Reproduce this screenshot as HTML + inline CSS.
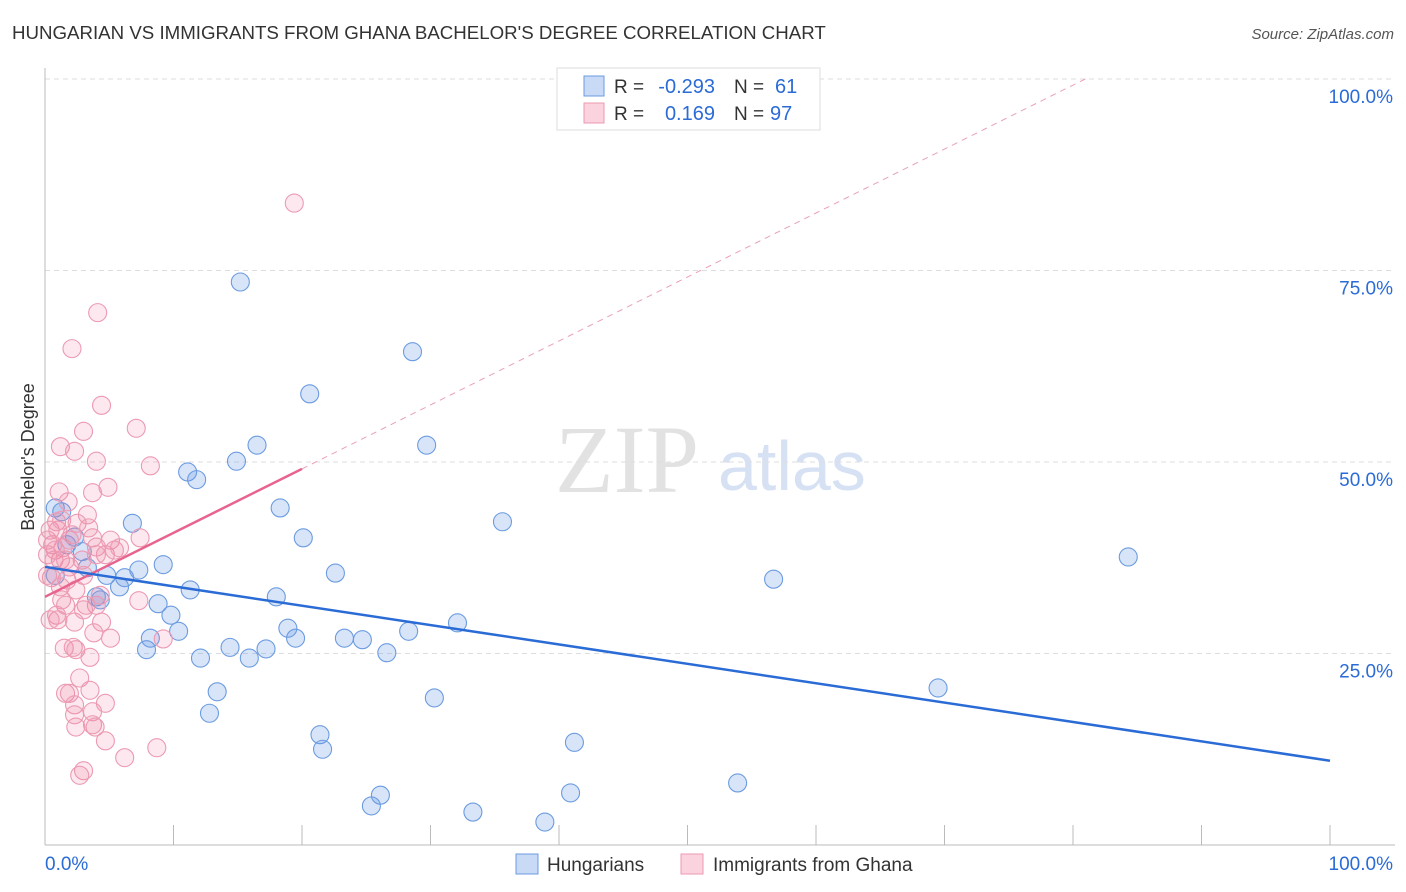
<!DOCTYPE html>
<html><head><meta charset="utf-8"><style>
body{margin:0;background:#fff;font-family:"Liberation Sans",sans-serif;}
#wrap{position:relative;width:1406px;height:892px;overflow:hidden;}
</style></head><body>
<div id="wrap">
<svg id="svg" width="1406" height="892" xmlns="http://www.w3.org/2000/svg">
<text x="12" y="39" font-size="18.7" fill="#333">HUNGARIAN VS IMMIGRANTS FROM GHANA BACHELOR'S DEGREE CORRELATION CHART</text>
<text x="1394" y="39" font-size="15" fill="#555" font-style="italic" text-anchor="end">Source: ZipAtlas.com</text>
<text x="555" y="492" font-size="96" fill="#e2e2e2" font-family="Liberation Serif,serif">ZIP</text>
<text x="718" y="490" font-size="70" fill="#d6e1f4">atlas</text>
<text transform="translate(34,457) rotate(-90)" font-size="18" fill="#333" text-anchor="middle">Bachelor's Degree</text>
<g id="grid"></g><g id="marks"></g>
<g>
<rect x="557" y="68" width="263" height="62" fill="#fff" stroke="#ddd"/>
<rect x="584" y="76" width="20" height="20" fill="rgba(100,150,230,0.35)" stroke="#6b9be0"/>
<rect x="584" y="103" width="20" height="20" fill="rgba(240,130,160,0.35)" stroke="#ec9ab2"/>
<text x="614" y="93" font-size="19" fill="#333">R =</text>
<text x="715" y="93" font-size="20" fill="#2a6bd6" text-anchor="end">-0.293</text>
<text x="734" y="93" font-size="19" fill="#333">N =</text>
<text x="775" y="93" font-size="20" fill="#2a6bd6">61</text>
<text x="614" y="120" font-size="19" fill="#333">R =</text>
<text x="715" y="120" font-size="20" fill="#2a6bd6" text-anchor="end">0.169</text>
<text x="734" y="120" font-size="19" fill="#333">N =</text>
<text x="770" y="120" font-size="20" fill="#2a6bd6">97</text>
</g>
<g>
<rect x="516" y="854" width="22" height="20" fill="rgba(100,150,230,0.35)" stroke="#6b9be0"/>
<text x="547" y="871" font-size="19" fill="#333">Hungarians</text>
<rect x="681" y="854" width="22" height="20" fill="rgba(240,130,160,0.35)" stroke="#ec9ab2"/>
<text x="713" y="871" font-size="19" fill="#333">Immigrants from Ghana</text>
</g>
</svg>
</div>
<script>
const yTicks=[25,50,75,100];
const xTickLabels=["0.0%","100.0%"];
const blueX=[15.2,28.6,20.6,29.7,16.5,14.9,11.1,11.8,18.3,35.6,6.8,84.3,20.1,0.8,1.3,2.3,2.9,1.7,9.2,7.3,4.8,6.2,5.8,3.3,22.6,56.7,4.3,4.0,11.3,18.0,8.8,9.8,32.1,28.3,18.9,19.5,23.3,24.7,10.4,8.2,7.9,14.4,17.2,12.1,15.9,26.6,69.5,13.4,30.3,12.8,21.4,21.6,41.2,53.9,26.1,25.4,40.9,33.3,38.9,0.8];
const blueY=[73.5,64.4,58.9,52.2,52.2,50.1,48.7,47.7,44.0,42.2,42.0,37.6,40.1,44.0,43.5,40.2,38.3,39.2,36.6,35.9,35.2,34.9,33.7,36.2,35.5,34.7,32.0,32.4,33.3,32.4,31.5,30.0,29.0,27.9,28.3,27.0,27.0,26.8,27.9,27.0,25.5,25.8,25.6,24.4,24.4,25.1,20.5,20.0,19.2,17.2,14.4,12.5,13.4,8.1,6.5,5.1,6.8,4.3,3.0,35.2];
const pinkX=[19.4,4.1,2.1,4.4,7.1,3.0,1.2,2.3,4.0,8.2,4.9,3.7,1.1,1.8,0.9,3.3,5.1,2.5,3.4,0.4,0.6,0.2,0.8,1.4,1.9,4.0,4.7,3.7,7.4,2.9,3.0,1.2,1.7,2.4,4.0,1.3,1.6,0.9,1.0,2.3,3.2,4.4,3.8,5.1,1.5,2.2,2.4,3.5,7.3,9.2,2.7,1.6,1.9,3.5,4.7,2.3,2.3,3.7,3.7,2.4,3.9,4.7,8.7,6.2,3.0,2.7,0.5,0.2,1.2,1.9,0.4,3.0,4.3,5.4,5.8,4.0,1.0,1.3,2.1,0.7,1.6,0.2];
const pinkY=[83.8,69.5,64.8,57.4,54.4,54.0,52.0,51.4,50.1,49.5,46.7,46.0,46.1,44.8,42.2,43.1,39.8,42.0,41.4,41.1,39.2,39.8,38.5,38.8,39.8,38.9,37.9,40.1,40.1,37.2,35.2,37.2,34.6,33.3,31.3,32.0,31.3,30.0,29.4,29.1,31.3,29.1,27.7,27.0,25.7,25.8,25.5,24.5,31.9,26.9,21.8,19.8,19.8,20.2,18.5,18.3,17.0,17.4,15.7,15.4,15.4,13.6,12.7,11.4,9.7,9.1,34.9,35.2,33.7,36.3,29.4,30.7,32.6,38.5,38.8,37.9,41.1,42.4,40.5,37.2,37.2,37.9];
const blueLine=[36.3,11.0];
const pinkLine=[32.4,49.1]; // at x=0 and x=20
const NS="http://www.w3.org/2000/svg";
const sx=v=>45+v*12.85, sy=v=>845-v*7.66;
const grid=document.getElementById('grid'), marks=document.getElementById('marks');
function mk(tag,attrs,parent){const e=document.createElementNS(NS,tag);for(const k in attrs)e.setAttribute(k,attrs[k]);parent.appendChild(e);return e;}
yTicks.forEach(t=>{
  const l=mk('line',{x1:45,x2:1395,y1:sy(t),y2:sy(t),stroke:'#ddd','stroke-dasharray':'5,4'},grid);
  
  
  const tx=mk('text',{x:1393,y:sy(t)+24,'font-size':19,fill:'#2a6bd6','text-anchor':'end'},grid);
  tx.textContent=t.toFixed(1)+'%';
  
  
});
let a=mk('line',{x1:45,x2:45,y1:68,y2:845,stroke:'#bbb'},grid);


a=mk('line',{x1:45,x2:1395,y1:845,y2:845,stroke:'#bbb'},grid);


for(let i=0;i<=10;i++){const t=mk('line',{x1:sx(i*10),x2:sx(i*10),y1:825,y2:845,stroke:'#bbb'},grid);

}
[[0,'start',45],[100,'end',1393]].forEach((d,i)=>{const t=mk('text',{x:d[2],y:870,'font-size':19,fill:'#2a6bd6','text-anchor':d[1]},grid);t.textContent=xTickLabels[i];

});
blueX.forEach((x,i)=>{const c=mk('circle',{cx:sx(x),cy:sy(blueY[i]),r:9,fill:'rgba(100,150,230,0.25)',stroke:'#6b9be0','stroke-width':1.1},marks);

});
pinkX.forEach((x,i)=>{const c=mk('circle',{cx:sx(x),cy:sy(pinkY[i]),r:9,fill:'rgba(240,130,160,0.18)',stroke:'#ec9ab2','stroke-width':1.1},marks);

});
const slope=(pinkLine[1]-pinkLine[0])/20, xEnd=(100-pinkLine[0])/slope;
let l=mk('line',{x1:sx(20),y1:sy(pinkLine[1]),x2:sx(xEnd),y2:sy(100),stroke:'#eaa0b6','stroke-dasharray':'6,5','stroke-width':1},marks);


l=mk('line',{x1:sx(0),y1:sy(pinkLine[0]),x2:sx(20),y2:sy(pinkLine[1]),stroke:'#e8648e','stroke-width':2.5},marks);


l=mk('line',{x1:sx(0),y1:sy(blueLine[0]),x2:sx(100),y2:sy(blueLine[1]),stroke:'#2a6bd6','stroke-width':2.5},marks);


</script>
</body></html>
